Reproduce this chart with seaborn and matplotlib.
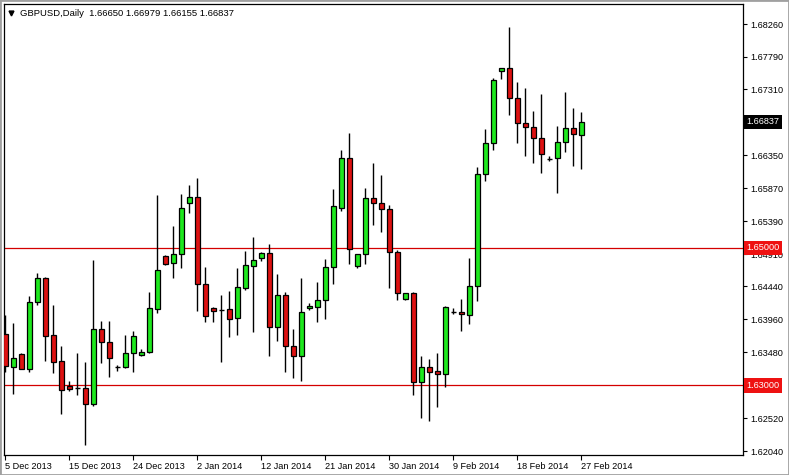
import matplotlib
matplotlib.use("Agg")
import matplotlib.pyplot as plt
import matplotlib.transforms as mtransforms
import numpy as np
import pandas as pd
import seaborn as sns

opens = [1.63743, 1.63271, 1.63451, 1.63241, 1.64209, 1.64559, 1.63728, 1.63349, 1.62985, 1.62960,
         1.62956, 1.62723, 1.63815, 1.63626, 1.63271, 1.63262, 1.63466, 1.63437, 1.63480, 1.64107,
         1.64888, 1.64777, 1.64908, 1.65651, 1.65739, 1.64475, 1.64126, 1.64101, 1.64107, 1.63976,
         1.64422, 1.64742, 1.64850, 1.64923, 1.63853, 1.64315, 1.63577, 1.63431, 1.64121, 1.64145,
         1.64238, 1.64719, 1.65587, 1.66307, 1.64742, 1.64908, 1.65724, 1.65651, 1.65564, 1.64937,
         1.64257, 1.64344, 1.63052, 1.63262, 1.63208, 1.63169, 1.64063, 1.64063, 1.64019, 1.64446,
         1.66074, 1.66534, 1.67575, 1.67618, 1.67181, 1.66817, 1.66759, 1.66598, 1.66301, 1.66307,
         1.66540, 1.66744, 1.66650]
highs = [1.64024, 1.63912, 1.63466, 1.64301, 1.64636, 1.64577, 1.64170, 1.63572, 1.63058, 1.63466,
         1.63339, 1.64825, 1.63936, 1.63936, 1.63295, 1.63732, 1.63791, 1.63524, 1.64355, 1.65772,
         1.64898, 1.65321, 1.65787, 1.65918, 1.66016, 1.64728, 1.64145, 1.64315, 1.64374, 1.64709,
         1.64956, 1.65165, 1.64946, 1.65058, 1.64621, 1.64363, 1.63820, 1.64563, 1.64203, 1.64505,
         1.64840, 1.65860, 1.66428, 1.66680, 1.64908, 1.65870, 1.66243, 1.66064, 1.65627, 1.64971,
         1.64344, 1.64355, 1.63426, 1.63387, 1.63466, 1.64155, 1.64121, 1.64257, 1.64854, 1.66180,
         1.66738, 1.67473, 1.67618, 1.68224, 1.67423, 1.67336, 1.67000, 1.67244, 1.66340, 1.66778,
         1.67277, 1.67035, 1.66979]
lows = [1.63193, 1.62873, 1.63233, 1.63198, 1.64165, 1.63358, 1.63183, 1.62586, 1.62921, 1.62863,
        1.62134, 1.62698, 1.63329, 1.63125, 1.63212, 1.63256, 1.63198, 1.63431, 1.63470, 1.64049,
        1.64752, 1.64567, 1.64713, 1.65514, 1.64086, 1.63926, 1.63926, 1.63343, 1.63708, 1.63737,
        1.64388, 1.63780, 1.64815, 1.63426, 1.63649, 1.63198, 1.63110, 1.63067, 1.64097, 1.63926,
        1.63966, 1.64475, 1.65543, 1.64767, 1.64713, 1.64767, 1.65339, 1.65237, 1.64422, 1.64242,
        1.64242, 1.62858, 1.62527, 1.62479, 1.62688, 1.62979, 1.64038, 1.63791, 1.63893, 1.64228,
        1.65981, 1.66428, 1.67458, 1.66938, 1.66534, 1.66345, 1.66234, 1.66097, 1.66263, 1.65806,
        1.66403, 1.66199, 1.66155]
closes = [1.63281, 1.63393, 1.63241, 1.64209, 1.64559, 1.63722, 1.63343, 1.62927, 1.62950, 1.62960,
          1.62723, 1.63815, 1.63626, 1.63393, 1.63271, 1.63466, 1.63713, 1.63480, 1.64121, 1.64675,
          1.64767, 1.64908, 1.65578, 1.65739, 1.64471, 1.64014, 1.64086, 1.64101, 1.63961, 1.64427,
          1.64752, 1.64825, 1.64923, 1.63853, 1.64315, 1.63577, 1.63431, 1.64063, 1.64155, 1.64238,
          1.64719, 1.65608, 1.66307, 1.64981, 1.64908, 1.65724, 1.65651, 1.65564, 1.64937, 1.64349,
          1.64344, 1.63052, 1.63262, 1.63198, 1.63169, 1.64136, 1.64063, 1.64034, 1.64446, 1.66074,
          1.66534, 1.67448, 1.67618, 1.67181, 1.66817, 1.66759, 1.66598, 1.66365, 1.66301, 1.66540,
          1.66744, 1.66657, 1.66837]

date_tick_bars = [0, 8, 16, 24, 32, 40, 48, 56, 64, 72]
date_tick_labels = ["5 Dec 2013", "15 Dec 2013", "24 Dec 2013", "2 Jan 2014", "12 Jan 2014",
                    "21 Jan 2014", "30 Jan 2014", "9 Feb 2014", "18 Feb 2014", "27 Feb 2014"]
price_ticks = [1.62040, 1.62520, 1.63000, 1.63480, 1.63960, 1.64440, 1.64910, 1.65390,
               1.65870, 1.66350, 1.66830, 1.67310, 1.67790, 1.68260]
# tick labels fully covered by the price boxes in the reference
hidden_tick_labels = [1.63000, 1.66830]
level_lines = [1.65000, 1.63000]
title_text = "GBPUSD,Daily  1.66650 1.66979 1.66155 1.66837"
last_price = 1.66837

df = pd.DataFrame({"bar": np.arange(len(opens)), "open": opens, "high": highs,
                   "low": lows, "close": closes})
df["dir"] = np.where(df["close"] > df["open"], "up",
                     np.where(df["close"] < df["open"], "down", "flat"))

sns.set_theme(style="white")
plt.rcParams["font.family"] = ["Liberation Sans", "DejaVu Sans"]

W, H = 789, 475
fig = plt.figure(figsize=(W / 100, H / 100), dpi=100)
fig.patch.set_facecolor("white")
ax = fig.add_axes([4 / W, (H - 455) / H, (743 - 4) / W, (455 - 4) / H])
ax.set_facecolor("white")

GREEN = "#1ee81e"
RED = "#dd1111"
body_w = 0.62

for lv in level_lines:
    ax.axhline(lv, color="#d40000", lw=0.9, zorder=1)

# wicks
ax.vlines(df["bar"], df["low"], df["high"], color="black", lw=1.0, zorder=2)
# bodies
for d, col in (("up", GREEN), ("down", RED)):
    sub = df[df["dir"] == d]
    bottom = np.minimum(sub["open"], sub["close"])
    height = (sub["close"] - sub["open"]).abs()
    ax.bar(sub["bar"], height, bottom=bottom, width=body_w, color=col,
           edgecolor="black", linewidth=0.9, zorder=3)
flat = df[df["dir"] == "flat"]
ax.hlines(flat["open"], flat["bar"] - body_w / 2, flat["bar"] + body_w / 2,
          color="black", lw=1.0, zorder=3)

ax.set_xlim(-0.16, 92.2)
ax.set_ylim(1.61984, 1.68555)

ax.set_xticks(date_tick_bars)
ax.set_xticklabels(date_tick_labels, ha="left")
ax.yaxis.tick_right()
ax.set_yticks(price_ticks)
ax.set_yticklabels(["" if any(abs(v - h) < 1e-9 for h in hidden_tick_labels) else f"{v:.5f}"
                    for v in price_ticks])
ax.tick_params(axis="x", direction="out", length=3.5, width=0.8, color="black",
               labelsize=6.6, pad=1.5, bottom=True, labelcolor="black")
ax.tick_params(axis="y", direction="out", length=3, width=0.8, color="black",
               labelsize=6.6, pad=2, right=True, left=False, labelcolor="black")
for lab in ax.get_yticklabels():
    lab.set_horizontalalignment("left")

for s in ax.spines.values():
    s.set_visible(True)
    s.set_color("black")
    s.set_linewidth(0.9)

trans = mtransforms.blended_transform_factory(ax.transAxes, ax.transData)
for lv in level_lines:
    ax.text(1.0045, lv, f"{lv:.5f}", transform=trans, ha="left", va="center",
            fontsize=6.6, color="white", zorder=10, clip_on=False,
            bbox=dict(boxstyle="square,pad=0.3", facecolor="#ee1111", edgecolor="none"))
ax.text(1.0045, last_price, f"{last_price:.5f}", transform=trans, ha="left", va="center",
        fontsize=6.6, color="white", zorder=10, clip_on=False,
        bbox=dict(boxstyle="square,pad=0.3", facecolor="black", edgecolor="none"))

ax.plot([0.0095], [0.9795], marker="v", markersize=3.5, color="black",
        transform=ax.transAxes, clip_on=False)
ax.text(0.0215, 0.980, title_text, transform=ax.transAxes, ha="left", va="center",
        fontsize=6.8, color="black")

# window frame
fig.add_artist(plt.Rectangle((0, 0), 1, 1, transform=fig.transFigure, fill=False,
                             edgecolor="#a0a0a0", linewidth=2.0))

fig.savefig("out.png", dpi=100)
